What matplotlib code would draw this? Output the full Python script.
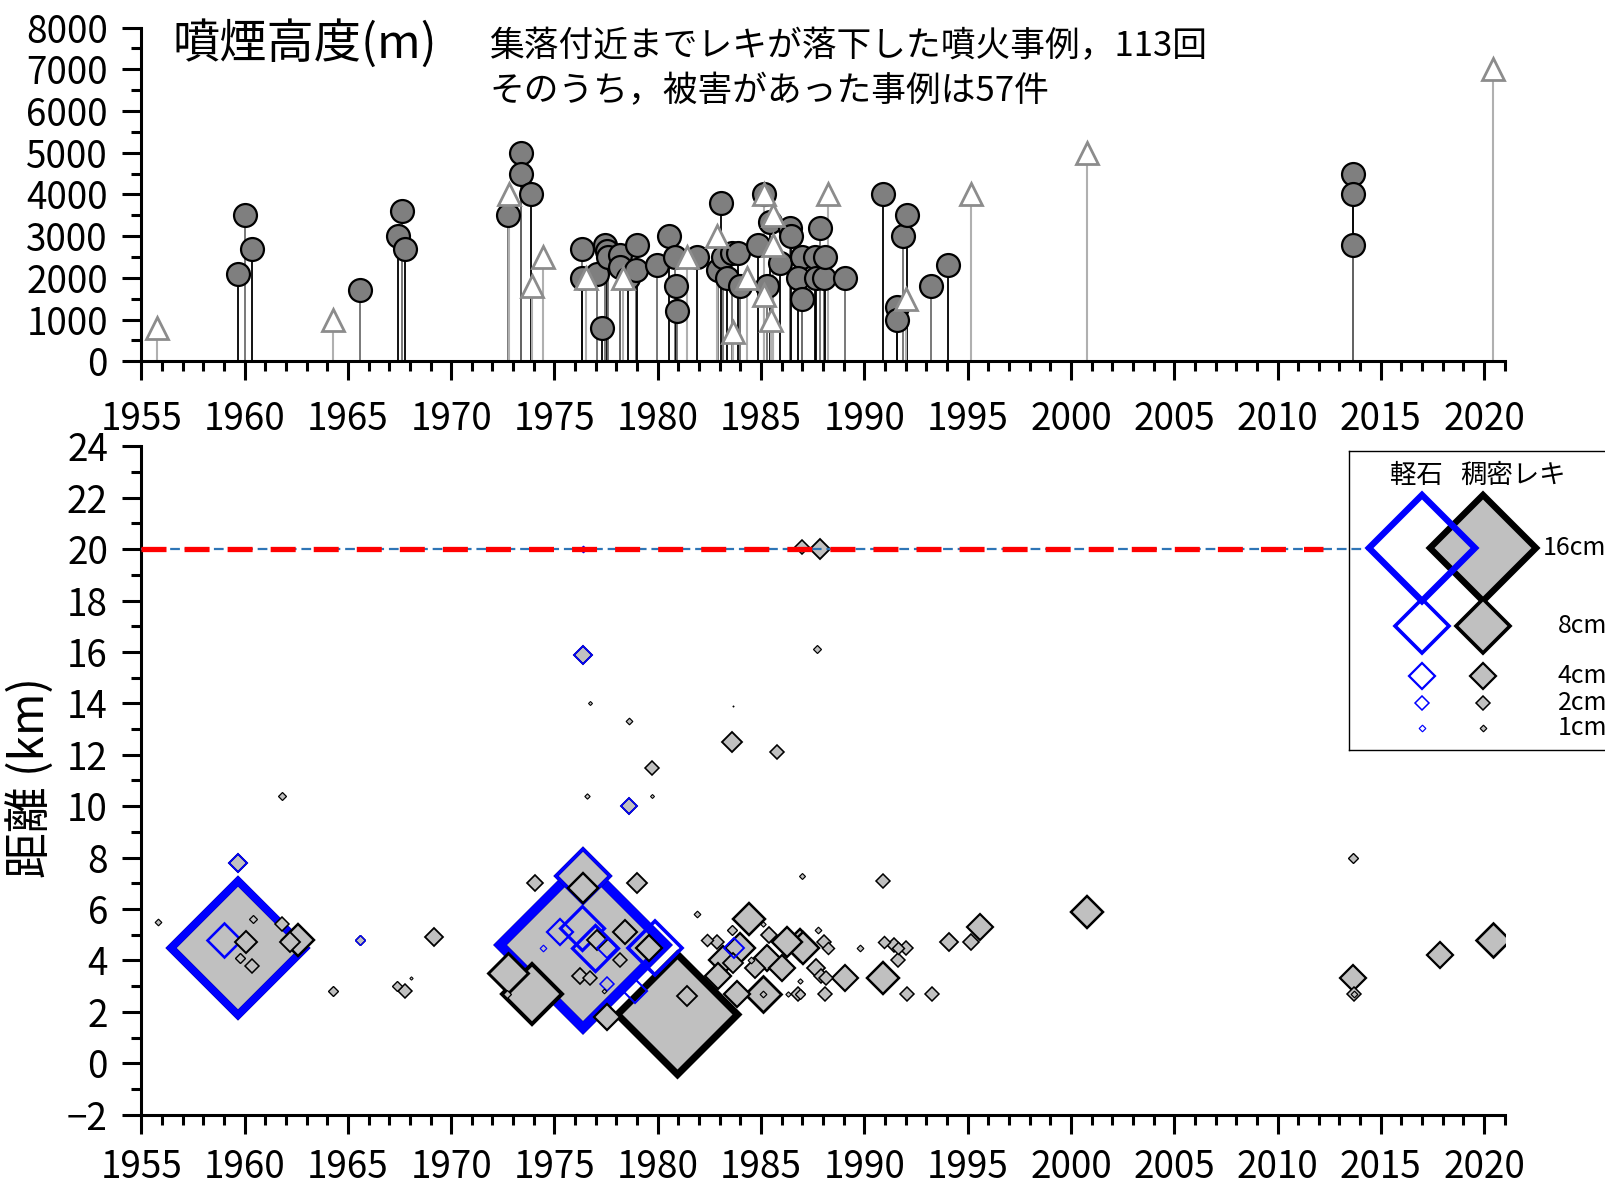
import matplotlib
matplotlib.use("Agg")
import matplotlib.pyplot as plt
from matplotlib.ticker import MultipleLocator

plt.rcParams['font.family'] = ['Noto Sans CJK JP', 'DejaVu Sans']
plt.rcParams['lines.scale_dashes'] = False

# --- upper panel: plume height (m) ---
# filled circles = damage cases, open triangles = no damage
circle_years = [1959.67, 1960.02, 1960.34, 1965.57, 1967.41, 1967.62, 1967.78,
                1972.73, 1973.38, 1973.38, 1973.86,
                1976.35, 1976.35, 1977.04, 1977.31, 1977.45, 1977.53, 1977.60,
                1978.17, 1978.17, 1978.57, 1978.95, 1979.01, 1979.95, 1980.54,
                1980.83, 1980.88, 1980.93, 1981.88, 1982.93, 1983.04, 1983.17,
                1983.34, 1983.58, 1983.90, 1983.98, 1984.87, 1985.14, 1985.43,
                1985.27, 1985.92, 1986.40, 1986.44, 1986.97, 1986.80, 1986.97,
                1987.60, 1987.85, 1987.68, 1988.04, 1988.09, 1989.06,
                1990.92, 1991.56, 1991.56, 1991.85, 1992.05, 1993.22, 1994.04,
                2013.67, 2013.67, 2013.67]
circle_heights = [2100, 3500, 2700, 1700, 3000, 3600, 2700,
                  3500, 5000, 4500, 4000,
                  2700, 2000, 2100, 800, 2800, 2650, 2500,
                  2550, 2250, 2000, 2200, 2800, 2300, 3000,
                  2500, 1800, 1200, 2500, 2200, 3800, 2500,
                  2000, 2600, 2600, 1800, 2800, 4000, 3350,
                  1800, 2350, 3200, 3000, 2500, 2000, 1500,
                  2500, 3200, 2000, 2000, 2500, 2000,
                  4000, 1300, 1000, 3000, 3500, 1800, 2300,
                  4500, 4000, 2800]
tri_years = [1955.77, 1964.29, 1972.80, 1973.90, 1974.43, 1976.53, 1978.33,
             1981.40, 1982.85, 1983.66, 1984.30, 1985.14, 1985.56, 1985.56,
             1985.14, 1985.47, 1988.22, 1992.01, 1995.15, 2000.77, 2020.41]
tri_heights = [800, 1000, 4000, 1800, 2500, 2000, 2000,
               2500, 3000, 700, 2000, 4000, 3500, 2800,
               1600, 1000, 4000, 1500, 4000, 5000, 7000]

# --- lower panel: distance (km) and block size (cm) ---
dense_years = [1955.79, 1960.39, 1960.07, 1959.79, 1960.37, 1961.80, 1962.20, 1962.60,
               1961.79, 1969.18, 1964.29, 1967.36, 1967.76, 1968.05,
               1986.99, 1987.85, 1987.72, 1976.70, 1983.64, 1978.59, 1983.60, 1985.78,
               1979.73, 1976.57, 1979.73, 1986.96, 1990.90, 1987.74, 1987.01, 1988.04,
               1988.25, 1989.79, 1990.96, 1991.45, 1991.61, 1992.00, 1991.64, 1994.10,
               1995.14, 1995.61, 2000.76, 1987.66, 1987.88, 1988.13, 1989.06, 1990.88,
               1986.90, 1988.11, 1992.06, 1993.26,
               2013.66, 2013.66, 2013.71, 2013.71, 2017.86, 2020.41,
               1972.77, 1973.93, 1974.08, 1978.98, 1976.39, 1978.41, 1977.04, 1978.17,
               1976.23, 1976.71, 1977.40, 1977.53, 1972.69, 1979.60, 1980.91, 1981.40,
               1981.88, 1984.43, 1985.10, 1983.58, 1982.40, 1982.85, 1983.98, 1983.17,
               1983.66, 1982.93, 1983.82, 1985.10, 1985.10, 1985.27, 1985.40, 1986.24,
               1986.88, 1986.00, 1986.80, 1986.30, 1986.90, 1984.70, 1984.50,
               1959.67, 1959.69, 1965.59, 1976.36, 1978.59, 1976.39, 1976.36]
dense_dist = [5.5, 5.6, 4.7, 4.1, 3.8, 5.4, 4.7, 4.8,
              10.4, 4.9, 2.8, 3.0, 2.8, 3.3,
              20.1, 20.0, 16.1, 14.0, 13.9, 13.3, 12.5, 12.1,
              11.5, 10.4, 10.4, 7.3, 7.1, 5.2, 4.5, 4.7,
              4.5, 4.5, 4.7, 4.6, 4.5, 4.5, 4.0, 4.7,
              4.7, 5.3, 5.9, 3.7, 3.4, 3.3, 3.3, 3.3,
              2.7, 2.7, 2.7, 2.7,
              8.0, 3.3, 2.7, 2.7, 4.2, 4.8,
              3.5, 2.7, 7.0, 7.0, 6.8, 5.1, 4.8, 4.0,
              3.4, 3.3, 2.8, 1.8, 2.7, 4.5, 1.9, 2.6,
              5.8, 5.6, 5.4, 5.2, 4.8, 4.7, 4.5, 4.0,
              3.9, 3.4, 2.7, 2.7, 2.7, 4.1, 5.0, 4.7,
              4.6, 3.7, 2.7, 2.7, 3.2, 3.7, 4.0,
              7.8, 4.5, 4.8, 15.9, 10.0, 7.3, 4.6]
dense_size = [1.0, 1.2, 3.3, 1.6, 2.0, 2.0, 3.0, 4.7,
              1.2, 2.8, 1.5, 1.5, 2.0, 0.5,
              2.2, 3.0, 1.1, 0.6, 0.2, 1.0, 3.0, 2.2,
              2.1, 0.8, 0.6, 0.9, 2.0, 1.0, 4.7, 2.0,
              1.8, 1.0, 1.8, 2.2, 1.8, 2.0, 2.0, 2.8,
              2.4, 3.8, 4.8, 2.7, 2.0, 2.0, 3.8, 4.8,
              1.5, 2.0, 2.0, 2.0,
              1.5, 4.0, 2.0, 1.0, 4.0, 5.0,
              6.0, 9.0, 2.5, 3.0, 4.5, 3.5, 3.0, 2.0,
              2.5, 2.0, 0.7, 4.0, 1.2, 4.0, 18.0, 3.0,
              1.0, 4.8, 0.8, 1.5, 1.8, 2.0, 4.5, 4.2,
              3.0, 4.0, 4.0, 5.5, 1.0, 4.0, 2.5, 4.5,
              4.8, 4.0, 2.0, 0.8, 0.8, 3.0, 1.0,
              2.8, 20.0, 1.5, 2.6, 2.4, 8.0, 25.0]

pumice_years = [1959.67, 1959.69, 1959.00, 1965.59, 1976.36, 1976.36, 1978.59,
                1976.39, 1976.36, 1975.27, 1976.32, 1976.96, 1977.53, 1974.46,
                1977.55, 1978.90, 1979.87, 1983.70]
pumice_dist = [7.8, 4.5, 4.8, 4.8, 20.0, 15.9, 10.0,
               7.3, 4.6, 5.1, 5.25, 4.5, 4.5, 4.5,
               3.1, 2.8, 4.5, 4.5]
pumice_size = [2.8, 20.0, 5.0, 1.5, 1.0, 2.6, 2.4,
               8.0, 25.0, 4.0, 6.7, 7.0, 3.0, 1.0,
               2.0, 3.5, 8.0, 3.0]

ref_distance = 20
legend_sizes = [16, 8, 4, 2, 1]
legend_labels = ["16cm", "8cm", "4cm", "2cm", "1cm"]

title_text = "噴煙高度(m)"
note_lines = ["集落付近までレキが落下した噴火事例，113回",
              "そのうち，被害があった事例は57件"]

GRAY = '#c0c0c0'
BLUE = '#0000ff'
TICK_FS = 26.5


def ms_of(cm):
    return 3.39 * cm


def mew_of(cm):
    return 0.6 + 0.25 * cm


def style_axis(ax, xpad):
    for side in ['top', 'right']:
        ax.spines[side].set_visible(False)
    for side in ['left', 'bottom']:
        ax.spines[side].set_linewidth(2.2)
    ax.xaxis.set_major_locator(MultipleLocator(5))
    ax.xaxis.set_minor_locator(MultipleLocator(1))
    ax.tick_params(which='major', direction='out', length=14, width=2.2, labelsize=TICK_FS)
    ax.tick_params(which='minor', direction='out', length=7, width=2.2)
    ax.tick_params(axis='x', which='major', pad=xpad)
    ax.tick_params(axis='y', which='major', pad=10)


fig = plt.figure(figsize=(16.05, 11.88), dpi=100)

# upper panel
ax1 = fig.add_axes([0.08804, 0.69588, 0.8495, 0.28089])
ax1.set_xlim(1955, 2021)
ax1.set_ylim(0, 8000)
style_axis(ax1, 14)
ax1.yaxis.set_major_locator(MultipleLocator(1000))
ax1.yaxis.set_minor_locator(MultipleLocator(500))
stem_cols = ['black', '#6e6e6e']
ax1.vlines(circle_years, 0, circle_heights,
           colors=[stem_cols[i % 2] for i in range(len(circle_years))], lw=1.3, zorder=2)
ax1.vlines(tri_years, 0, tri_heights, colors='#b0b0b0', lw=1.5, zorder=2)
ax1.plot(circle_years, circle_heights, 'o', ms=16.5, mfc='#7f7f7f', mec='black',
         mew=1.6, ls='none', zorder=3, clip_on=False)
ax1.plot(tri_years, tri_heights, '^', ms=16, mfc='white', mec='#8c8c8c',
         mew=2.0, ls='none', zorder=4, clip_on=False)

fig.text(172 / 1605, 1 - 44 / 1188, title_text, fontsize=34, va='center', ha='left')
fig.text(489 / 1605, 1 - 47 / 1188, note_lines[0], fontsize=25, va='center', ha='left')
fig.text(489 / 1605, 1 - 92 / 1188, note_lines[1], fontsize=25, va='center', ha='left')

# lower panel
ax2 = fig.add_axes([0.08804, 0.06170, 0.8495, 0.56263])
ax2.set_xlim(1955, 2021)
ax2.set_ylim(-2, 24)
style_axis(ax2, 10)
ax2.yaxis.set_major_locator(MultipleLocator(2))
ax2.yaxis.set_minor_locator(MultipleLocator(1))

ax2.hlines(ref_distance, 1955, 2014.5, colors='#2e75b6', lw=1.6,
           linestyles=(0, (7, 3.5)), zorder=6, clip_on=False)
ax2.hlines(ref_distance, 1955, 2012.2, colors='#ff0000', lw=3.8,
           linestyles=(0, (18, 13)), zorder=7)

marks = [(s, 0, x, y) for x, y, s in zip(dense_years, dense_dist, dense_size)]
marks += [(s, 1, x, y) for x, y, s in zip(pumice_years, pumice_dist, pumice_size)]
marks.sort(key=lambda m: (-m[0], m[1]))
for s, kind, x, y in marks:
    if kind == 0:
        ax2.plot(x, y, 'D', ms=ms_of(s), mfc=GRAY, mec='black', mew=mew_of(s), zorder=3)
    else:
        ax2.plot(x, y, 'D', ms=ms_of(s), mfc='none', mec=BLUE, mew=mew_of(s), zorder=3)

fig.text(31 / 1605, 1 - 778 / 1188, "距離 (km)", fontsize=33, rotation=90,
         va='center', ha='center')

# legend box (runs off the right edge like the original)
lx0, ly0, ly1 = 1349, 451.4, 750.3
lw_px = 1605 - lx0 + 30
axl = fig.add_axes([lx0 / 1605, 1 - ly1 / 1188, lw_px / 1605, (ly1 - ly0) / 1188])
axl.set_xlim(0, lw_px)
axl.set_ylim(ly1 - ly0, 0)
axl.set_xticks([])
axl.set_yticks([])
axl.patch.set_alpha(0)
for sp in axl.spines.values():
    sp.set_linewidth(1.0)
axl.set_zorder(5)
row_y = [97, 175, 225, 252, 277]
axl.text(67, 24, "軽石", fontsize=19, ha='center', va='center')
axl.text(164, 24, "稠密レキ", fontsize=19, ha='center', va='center')
for s, yy, lab in zip(legend_sizes, row_y, legend_labels):
    axl.plot(134, yy, 'D', ms=ms_of(s), mfc=GRAY, mec='black', mew=mew_of(s))
    axl.plot(73, yy, 'D', ms=ms_of(s), mfc='none', mec=BLUE, mew=mew_of(s))
    axl.text(194 if s == 16 else 209, yy, lab, fontsize=18, ha='left', va='center')

fig.savefig("out.png", dpi=100)
